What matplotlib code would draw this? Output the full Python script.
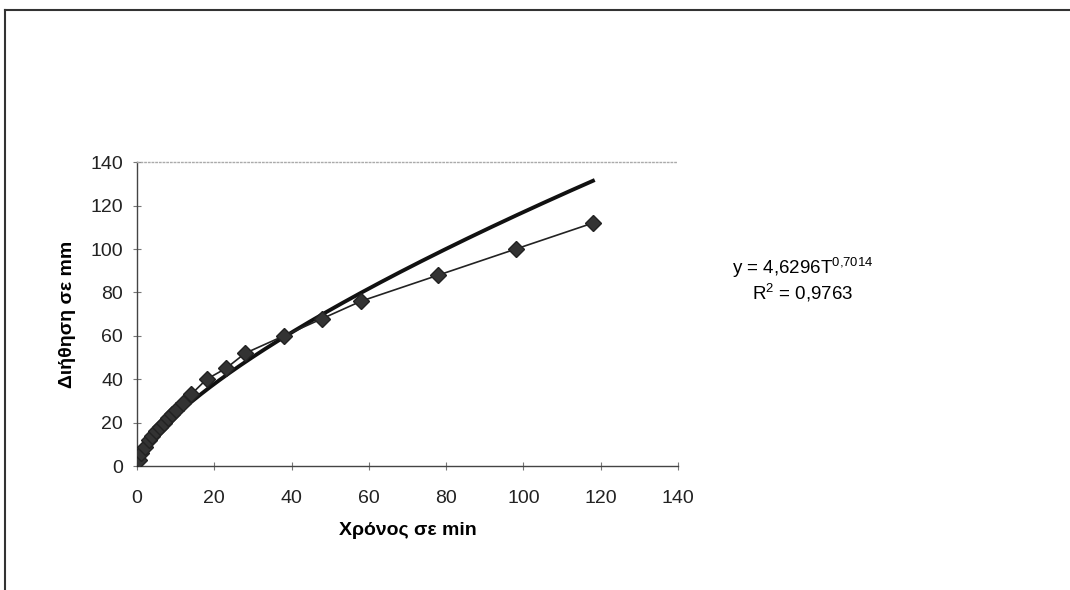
import numpy as np
import matplotlib
matplotlib.use("Agg")
import matplotlib.pyplot as plt
from matplotlib.lines import Line2D

# measured infiltration (time in min, depth in mm)
time_min = [0.5, 1, 2, 3, 4, 5, 6, 7, 8, 9, 10, 12, 14, 18, 23, 28, 38, 48, 58, 78, 98, 118]
depth_mm = [3, 6, 9, 12, 14, 16, 18, 20, 22, 24, 26, 29, 33, 40, 45, 52, 60, 68, 76, 88, 100, 112]

# power trendline shown on the chart
coef_a = 4.6296
coef_b = 0.7014
r2_text = "0,9763"

plt.rcParams['font.family'] = ['Liberation Sans', 'DejaVu Sans']
plt.rcParams['mathtext.fontset'] = 'custom'
plt.rcParams['mathtext.rm'] = 'Liberation Sans'
plt.rcParams['mathtext.it'] = 'Liberation Sans'

fig = plt.figure(figsize=(10.7, 5.9), dpi=100)
ax = fig.add_axes([0.128, 0.21, 0.5056, 0.515])

t = np.linspace(min(time_min), max(time_min), 300)
ax.plot(t, coef_a * t ** coef_b, color='#111111', lw=2.8, zorder=2)
ax.plot(time_min, depth_mm, color='#222222', lw=1.2, marker='D', ms=8,
        markerfacecolor='#333333', markeredgecolor='#222222', zorder=3)

ax.set_xlim(0, 140)
ax.set_ylim(0, 140)
ax.set_xticks(range(0, 141, 20))
ax.set_yticks(range(0, 141, 20))
ax.tick_params(direction='inout', length=6, width=0.8, color='#777777',
               labelsize=14, labelcolor='#222222')
ax.tick_params(axis='x', pad=14)
ax.tick_params(axis='y', pad=7)

for s in ['left', 'bottom']:
    ax.spines[s].set_color('#444444')
    ax.spines[s].set_linewidth(1.0)
ax.spines['right'].set_visible(False)
ax.spines['top'].set_color('#aaaaaa')
ax.spines['top'].set_linestyle(':')
ax.spines['top'].set_linewidth(1.0)

ax.set_xlabel('Χρόνος σε min', fontsize=14, fontweight='bold', labelpad=11)
ax.set_ylabel('Διήθηση σε mm', fontsize=14, fontweight='bold', labelpad=10)

fig.text(0.750, 0.545, r'y = 4,6296T$^{0{,}7014}$', fontsize=13.5, ha='center', va='center')
fig.text(0.750, 0.503, r'R$^{2}$ = ' + r2_text, fontsize=13.5, ha='center', va='center')

# scanned frame edges
fig.add_artist(Line2D([0.005, 1.0], [1 - 10 / 590, 1 - 10 / 590], color='#333333', lw=1.5,
                      transform=fig.transFigure))
fig.add_artist(Line2D([0.005, 0.005], [0.0, 1 - 10 / 590], color='#333333', lw=1.5,
                      transform=fig.transFigure))

fig.savefig('out.png', dpi=100)
